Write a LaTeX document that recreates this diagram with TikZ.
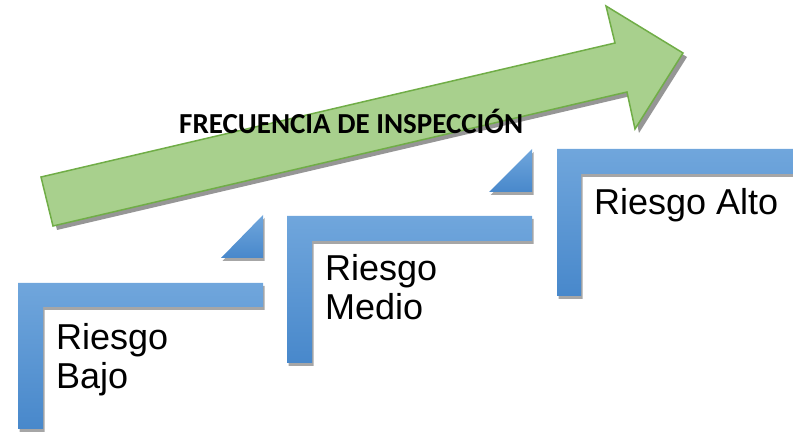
\documentclass[tikz,border=0pt]{standalone}
\usepackage{fontspec}
\setmainfont{Liberation Sans}
\newfontfamily\titlefont{Carlito}
\usetikzlibrary{shadows}
\definecolor{stepTop}{RGB}{112,166,220}
\definecolor{stepBot}{RGB}{72,136,203}
\definecolor{arrFill}{RGB}{168,208,141}
\definecolor{arrLine}{RGB}{112,173,71}
\definecolor{arrShadow}{RGB}{150,150,150}
\tikzset{
  stepshape/.style={top color=stepTop, bottom color=stepBot, draw=none,
    drop shadow={shadow xshift=1.5pt, shadow yshift=-3pt, opacity=0.35, fill=black}},
  lbl/.style={font=\fontsize{36}{39}\selectfont, anchor=base west, inner sep=0pt, align=left},
  titletext/.style={font=\titlefont\bfseries\fontsize{29}{33}\selectfont, anchor=base west, inner sep=0pt}
}
\begin{document}
\begin{tikzpicture}[x=1pt, y=-1pt]
\useasboundingbox (0,0) rectangle (793,435);
\clip (0,0) rectangle (793,435);
% green arrow shadow
\fill[arrShadow] (45,181) -- (619,47) -- (610,10) -- (687,57) -- (639,133) -- (631,96) -- (57,230) -- cycle;
% green arrow
\filldraw[fill=arrFill, draw=arrLine, line width=1.5pt, line join=miter]
  (41,177) coordinate (tl) -- (615,43) -- (606,6) -- (683,53) coordinate (tip) -- (635,129) -- (627,92) -- (53,226) coordinate (bl) -- cycle;
\node[titletext] (title) at (179,134) {FRECUENCIA DE INSPECCIÓN};
% steps
\path[stepshape] (18,283) -- (263,283) -- (263,307) -- (43,307) -- (43,429) -- (18,429) -- cycle;
\path[stepshape] (263,215) -- (263,258) -- (221,258) -- cycle;
\path[stepshape] (287,216) -- (532,216) -- (532,241) -- (312,241) -- (312,363) -- (287,363) -- cycle;
\path[stepshape] (532,149) -- (532,192) -- (489,192) -- cycle;
\path[stepshape] (557,149) -- (820,149) -- (820,174) -- (581,174) -- (581,296) -- (557,296) -- cycle;
% labels
\node[lbl] (bajo) at (56,388.3) {Riesgo\\Bajo};
\node[lbl] (medio) at (325,320) {Riesgo\\Medio};
\node[lbl] (alto) at (594,215) {Riesgo Alto};
\end{tikzpicture}
\end{document}
